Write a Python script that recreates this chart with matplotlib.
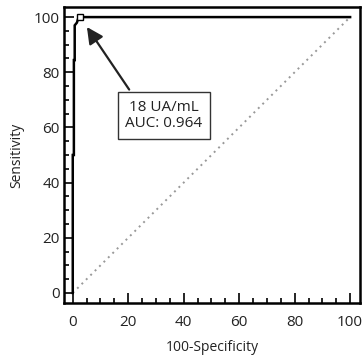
import matplotlib
matplotlib.use("Agg")
import matplotlib.pyplot as plt

# ROC curve points (100-Specificity, Sensitivity)
fpr = [0, 0, 0.4, 0.4, 0.7, 0.7, 1.5, 2.1, 100]
tpr = [0, 50, 50, 84.4, 84.4, 97, 98, 100, 100]
cutoff_point = (2.6, 100)
cutoff_label = "18 UA/mL\nAUC: 0.964"
x_ticks = [0, 20, 40, 60, 80, 100]
y_ticks = [0, 20, 40, 60, 80, 100]

plt.rcParams['font.family'] = ['Open Sans', 'DejaVu Sans']

fig = plt.figure(figsize=(3.63, 3.58), dpi=100)
ax = fig.add_axes([0.176, 0.154, 0.816, 0.826])

# reference diagonal
ax.plot([0, 100], [0, 100], color='#999999', linestyle=(0, (1, 2.2)), linewidth=1.4)
ax.plot(fpr, tpr, color='black', linewidth=1.8, solid_joinstyle='miter')
ax.plot(*cutoff_point, marker='s', markersize=5, markerfacecolor='white',
        markeredgecolor='black', markeredgewidth=1.0)

ax.annotate(cutoff_label, xy=(5.1, 96.4), xytext=(32.9, 64.3),
            ha='center', va='center', fontsize=11, color='#222222',
            linespacing=1.1,
            bbox=dict(boxstyle='square,pad=0.5', fc='white', ec='#333333', lw=1.0),
            arrowprops=dict(arrowstyle='-|>,head_length=0.9,head_width=0.45',
                            color='#222222', lw=1.6, shrinkA=2, shrinkB=0,
                            relpos=(0.14, 1.0)))

ax.set_xlim(-3.2, 103.6)
ax.set_ylim(-3.6, 103.6)
ax.set_xticks(x_ticks)
ax.set_yticks(y_ticks)
ax.set_xticks(range(0, 101, 5), minor=True)
ax.set_yticks(range(0, 101, 5), minor=True)

for s in ax.spines.values():
    s.set_linewidth(1.8)
ax.tick_params(which='both', direction='in', top=False, right=False,
               width=1.2, colors='black', labelcolor='#222222')
ax.tick_params(which='major', length=7, labelsize=11)
ax.tick_params(axis='x', which='major', pad=9)
ax.tick_params(axis='y', which='major', pad=3)
ax.tick_params(which='minor', length=3.5)

ax.set_xlabel('100-Specificity', fontsize=10, color='#222222', labelpad=7)
ax.set_ylabel('Sensitivity', fontsize=10, color='#222222', labelpad=7)

fig.savefig('out.png', dpi=100)
